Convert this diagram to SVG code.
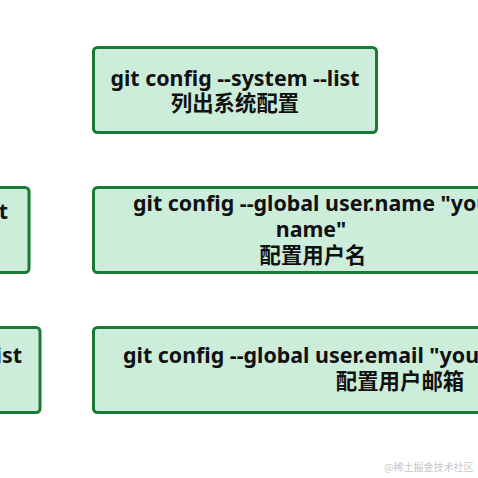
<svg xmlns="http://www.w3.org/2000/svg" width="478" height="478" viewBox="0 0 478 478">
<style>
.box{fill:#cdeddb;stroke:#1a7a34;stroke-width:3}
.t{font-family:"Noto Sans","Noto Sans CJK SC",sans-serif;font-weight:bold;font-size:21.4px;fill:#111}
.c{text-anchor:middle}
.wm{font-family:"Noto Sans CJK SC",sans-serif;font-size:10px;fill:#c8c8c8}
</style>
<rect width="478" height="478" fill="#ffffff"/>
<g id="connectors"></g>
<g id="node-system">
<rect class="box" x="93.5" y="47.5" width="283" height="85" rx="4"/>
<text class="t c" x="235" y="86">git config --system --list</text>
<text class="t c" x="235" y="111">列出系统配置</text>
</g>
<g id="node-left-1">
<rect class="box" x="-60" y="187.5" width="89" height="85" rx="4"/>
<text class="t" x="8" y="219" text-anchor="end">t</text>
</g>
<g id="node-left-2">
<rect class="box" x="-60" y="327.5" width="100" height="85" rx="4"/>
<text class="t" x="22" y="363" text-anchor="end">ist</text>
</g>
<g id="node-username">
<rect class="box" x="93.5" y="187.5" width="436" height="85" rx="4"/>
<text class="t" x="133" y="211">git config --global user.name "your</text>
<text class="t c" x="311" y="237">name"</text>
<text class="t c" x="313" y="263">配置用户名</text>
</g>
<g id="node-email">
<rect class="box" x="93.5" y="327.5" width="620" height="85" rx="4"/>
<text class="t" x="123" y="363">git config --global user.email "your</text>
<text class="t c" x="400" y="389">配置用户邮箱</text>
</g>
<text class="wm" x="384" y="471">@稀土掘金技术社区</text>
</svg>
